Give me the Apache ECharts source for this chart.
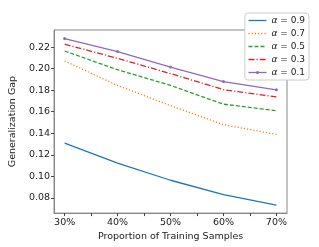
<!DOCTYPE html>
<html><head><meta charset="utf-8">
<script src="https://cdn.jsdelivr.net/npm/echarts@6/dist/echarts.min.js"></script>
<style>html,body{margin:0;padding:0;background:#fff}#c{width:319px;height:247px}</style>
</head><body><div id="c"></div>
<script>
const proportions = [30, 40, 50, 60, 70];
const xTickLabels = ['30%', '40%', '50%', '60%', '70%'];
const yTickValues = [0.08, 0.10, 0.12, 0.14, 0.16, 0.18, 0.20, 0.22];
const seriesNames = ['α = 0.9', 'α = 0.7', 'α = 0.5', 'α = 0.3', 'α = 0.1'];
const alpha09 = [0.1309, 0.1123, 0.0964, 0.0830, 0.0733];
const alpha07 = [0.2071, 0.1844, 0.1657, 0.1480, 0.1390];
const alpha05 = [0.2164, 0.1990, 0.1845, 0.1670, 0.1610];
const alpha03 = [0.2227, 0.2096, 0.1954, 0.1805, 0.1738];
const alpha01 = [0.2280, 0.2159, 0.2015, 0.1880, 0.1804];

const colors = ['#1f77b4', '#ff7f0e', '#2ca02c', '#d62728', '#9467bd'];
const dashes = ['solid', [1.2, 2], [4, 2], [6, 2, 1.2, 2], 'solid'];
const allData = [alpha09, alpha07, alpha05, alpha03, alpha01];
const font = 'DejaVu Sans';

const series = allData.map((d, i) => ({
  name: seriesNames[i],
  type: 'line',
  data: d.map((v, j) => [proportions[j], v]),
  symbol: i === 4 ? 'circle' : 'none',
  symbolSize: 3,
  itemStyle: { color: colors[i] },
  lineStyle: { color: colors[i], width: 1.3, type: dashes[i] },
  emphasis: { disabled: true },
  animation: false
}));

const legendData = seriesNames.map((n, i) => ({
  name: n,
  itemStyle: i === 4 ? { color: colors[i] } : { opacity: 0 },
  lineStyle: { color: colors[i], width: 1.3, type: dashes[i] }
}));

const chart = echarts.init(document.getElementById('c'));
chart.setOption({
  animation: false,
  grid: { left: 40, right: 32, top: 30, bottom: 28, show: true, borderColor: '#888', borderWidth: 1 },
  legend: {
    orient: 'vertical', right: 10, top: 13,
    itemWidth: 18, itemHeight: 4, itemGap: 2,
    backgroundColor: '#fff', borderColor: '#ccc', borderWidth: 1, borderRadius: 3,
    padding: [2, 4, 2, 3],
    data: legendData,
    formatter: n => '{a|α} = ' + n.split('= ')[1],
    textStyle: { fontFamily: font, fontSize: 9, lineHeight: 11, color: '#222', rich: { a: { fontStyle: 'italic', fontFamily: font, fontSize: 9, lineHeight: 11 } } }
  },
  xAxis: {
    type: 'value', min: 28, max: 72,
    name: 'Proportion of Training Samples', nameLocation: 'middle', nameGap: 17,
    nameTextStyle: { fontFamily: font, fontSize: 9.5, color: '#222' },
    axisLine: { lineStyle: { color: '#888' } },
    axisTick: { customValues: [30, 35, 40, 45, 50, 55, 60, 65, 70], length: 3, lineStyle: { color: '#444' } },
    axisLabel: { customValues: proportions, formatter: v => xTickLabels[proportions.indexOf(v)], fontFamily: font, fontSize: 9.5, color: '#222', margin: 4 },
    splitLine: { show: false }
  },
  yAxis: {
    type: 'value', min: 0.0659, max: 0.2359,
    name: 'Generalization Gap', nameLocation: 'middle', nameGap: 29,
    nameTextStyle: { fontFamily: font, fontSize: 9.5, color: '#222' },
    axisLine: { show: true, lineStyle: { color: '#888' } },
    axisTick: { show: true, customValues: yTickValues, length: 3, lineStyle: { color: '#444' } },
    axisLabel: { customValues: yTickValues, formatter: v => v.toFixed(2), fontFamily: font, fontSize: 9.5, color: '#222', margin: 4 },
    splitLine: { show: false }
  },
  series: series
});
</script></body></html>
